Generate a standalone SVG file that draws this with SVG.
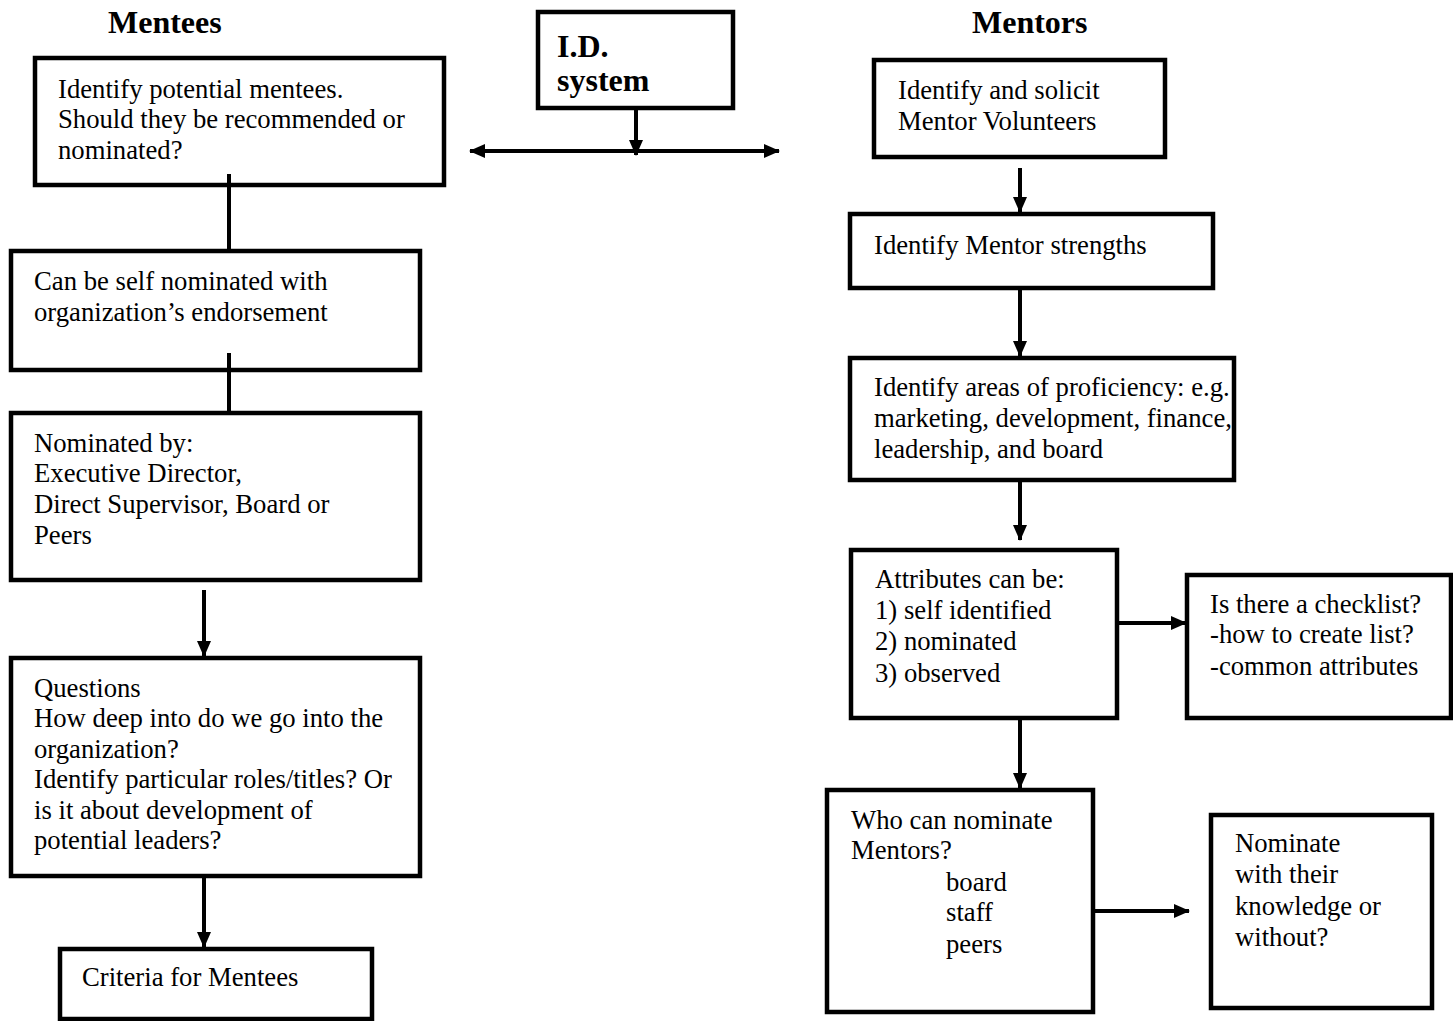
<svg xmlns="http://www.w3.org/2000/svg" width="1453" height="1021" viewBox="0 0 1453 1021">
<style>
.box{fill:#fff;stroke:#000;stroke-width:4.5}
.t{font-family:"Liberation Serif","Times New Roman",serif;font-size:26.7px;fill:#000}
.h{font-family:"Liberation Serif","Times New Roman",serif;font-size:32px;font-weight:bold;fill:#000}
.c{stroke:#000;stroke-width:4;fill:none}
</style>
<defs>
<marker id="ah" markerUnits="userSpaceOnUse" markerWidth="18" markerHeight="18" refX="15" refY="9" orient="auto-start-reverse">
<path d="M0,2 L16,9 L0,16 Z" fill="#000"/>
</marker>
</defs>
<rect width="1453" height="1021" fill="#fff"/>
<text class="h" x="108" y="33">Mentees</text>
<text class="h" x="972" y="33">Mentors</text>

<g id="n-mentees1">
<rect class="box" x="35" y="58" width="409" height="127"/>
<text class="t" x="58" y="98">Identify potential mentees.</text>
<text class="t" x="58" y="128">Should they be recommended or</text>
<text class="t" x="58" y="159">nominated?</text>
</g>
<g id="n-mentees2">
<rect class="box" x="11" y="251" width="409" height="119"/>
<text class="t" x="34" y="290">Can be self nominated with</text>
<text class="t" x="34" y="321">organization’s endorsement</text>
</g>
<g id="n-mentees3">
<rect class="box" x="11" y="413" width="409" height="167"/>
<text class="t" x="34" y="452">Nominated by:</text>
<text class="t" x="34" y="482">Executive Director,</text>
<text class="t" x="34" y="513">Direct Supervisor, Board or</text>
<text class="t" x="34" y="544">Peers</text>
</g>
<g id="n-mentees4">
<rect class="box" x="11" y="658" width="409" height="218"/>
<text class="t" x="34" y="697">Questions</text>
<text class="t" x="34" y="727">How deep into do we go into the</text>
<text class="t" x="34" y="758">organization?</text>
<text class="t" x="34" y="788">Identify particular roles/titles? Or</text>
<text class="t" x="34" y="819">is it about development of</text>
<text class="t" x="34" y="849">potential leaders?</text>
</g>
<g id="n-mentees5">
<rect class="box" x="60" y="949" width="312" height="70"/>
<text class="t" x="82" y="986">Criteria for Mentees</text>
</g>
<g id="n-id">
<rect class="box" x="538" y="12" width="195" height="96"/>
<text class="h" x="557" y="57">I.D.</text>
<text class="h" x="557" y="91">system</text>
</g>
<g id="n-mentors1">
<rect class="box" x="874" y="60" width="291" height="97"/>
<text class="t" x="898" y="99">Identify and solicit</text>
<text class="t" x="898" y="130">Mentor Volunteers</text>
</g>
<g id="n-mentors2">
<rect class="box" x="850" y="214" width="363" height="74"/>
<text class="t" x="874" y="254">Identify Mentor strengths</text>
</g>
<g id="n-mentors3">
<rect class="box" x="850" y="358" width="384" height="122"/>
<text class="t" x="874" y="396">Identify areas of proficiency: e.g.</text>
<text class="t" x="874" y="427">marketing, development, finance,</text>
<text class="t" x="874" y="458">leadership, and board</text>
</g>
<g id="n-mentors4">
<rect class="box" x="851" y="550" width="266" height="168"/>
<text class="t" x="875" y="588">Attributes can be:</text>
<text class="t" x="875" y="619">1) self identified</text>
<text class="t" x="875" y="650">2) nominated</text>
<text class="t" x="875" y="682">3) observed</text>
</g>
<g id="n-checklist">
<rect class="box" x="1187" y="575" width="264" height="143"/>
<text class="t" x="1210" y="613">Is there a checklist?</text>
<text class="t" x="1210" y="643">-how to create list?</text>
<text class="t" x="1210" y="675">-common attributes</text>
</g>
<g id="n-mentors5">
<rect class="box" x="827" y="790" width="266" height="222"/>
<text class="t" x="851" y="829">Who can nominate</text>
<text class="t" x="851" y="859">Mentors?</text>
<text class="t" x="946" y="891">board</text>
<text class="t" x="946" y="921">staff</text>
<text class="t" x="946" y="953">peers</text>
</g>
<g id="n-nominate">
<rect class="box" x="1211" y="815" width="221" height="193"/>
<text class="t" x="1235" y="852">Nominate</text>
<text class="t" x="1235" y="883">with their</text>
<text class="t" x="1235" y="915">knowledge or</text>
<text class="t" x="1235" y="946">without?</text>
</g>

<g id="connectors">
<line class="c" x1="229" y1="174" x2="229" y2="249"/>
<line class="c" x1="229" y1="353" x2="229" y2="411"/>
<line class="c" x1="204" y1="590" x2="204" y2="656" marker-end="url(#ah)"/>
<line class="c" x1="204" y1="878" x2="204" y2="947" marker-end="url(#ah)"/>
<line class="c" x1="636" y1="110" x2="636" y2="155" marker-end="url(#ah)"/>
<line class="c" x1="470" y1="151" x2="779" y2="151" marker-start="url(#ah)" marker-end="url(#ah)"/>
<line class="c" x1="1020" y1="168" x2="1020" y2="212" marker-end="url(#ah)"/>
<line class="c" x1="1020" y1="290" x2="1020" y2="356" marker-end="url(#ah)"/>
<line class="c" x1="1020" y1="482" x2="1020" y2="540" marker-end="url(#ah)"/>
<line class="c" x1="1119" y1="623" x2="1186" y2="623" marker-end="url(#ah)"/>
<line class="c" x1="1020" y1="720" x2="1020" y2="788" marker-end="url(#ah)"/>
<line class="c" x1="1095" y1="911" x2="1189" y2="911" marker-end="url(#ah)"/>
</g>
</svg>
